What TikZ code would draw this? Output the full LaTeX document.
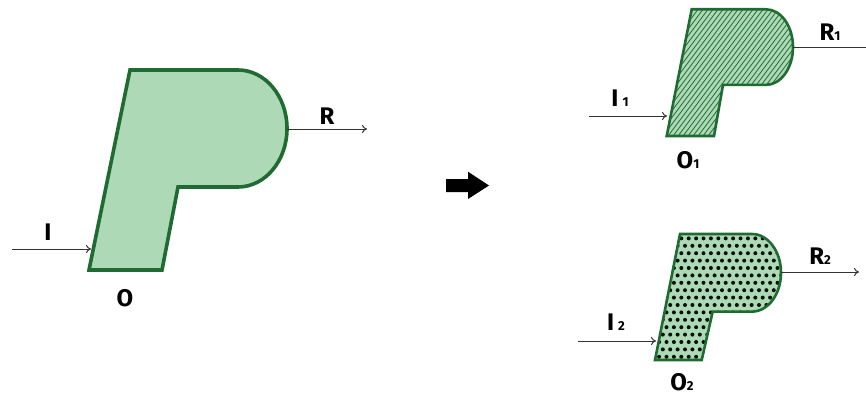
\documentclass[tikz,border=0pt]{standalone}
\usepackage{fontspec}
\setmainfont{Fira Sans}
\usetikzlibrary{arrows.meta}
\definecolor{pfill}{HTML}{AED9B6}
\definecolor{pline}{HTML}{1F6B32}
\definecolor{aline}{HTML}{333333}
\newcommand{\sbs}[1]{{\fontsize{13}{13}\selectfont #1}}
\begin{document}
\begin{tikzpicture}[x=1pt,y=-1pt,
  conn/.style={draw=aline, line width=1pt, -{To[length=5pt,width=8pt]}},
  plain/.style={draw=aline, line width=1pt},
  lbl/.style={font=\fontsize{24}{24}\selectfont\bfseries, text=black, inner sep=0pt},
  bigshape/.style={insert path={(130,70) -- (238,70) arc[start angle=-90,end angle=90,x radius=49,y radius=58.5] -- (178,187) -- (162,270) -- (89,270) -- cycle}},
  shapeA/.style={insert path={(691.7,9.3) -- (766,9.3) arc[start angle=-90,end angle=90,x radius=27,y radius=37.8] -- (723,84.9) -- (714,136) -- (666.7,136) -- cycle}},
  shapeB/.style={insert path={(680,234) -- (752,234) arc[start angle=-90,end angle=90,x radius=29,y radius=38.8] -- (712.7,311.6) -- (701.7,360) -- (655,360) -- cycle}},
  outline/.style={draw=pline, line join=miter}
]
\useasboundingbox (0,0) rectangle (866,396);

% ---- big shape ----
\path[fill=pfill, outline, line width=3.6pt, bigshape];
\coordinate (Rs) at (287,129);
\coordinate (Re) at (367,129);
\coordinate (Is) at (12,249);
\coordinate (Ie) at (91,249);
\draw[conn] (Rs) -- (Re);
\draw[conn] (Is) -- (Ie);
\node[lbl] (R) at (327,116) {R};
\node[lbl] (I) at (48,232) {I};
\node[lbl] (O) at (125,298) {O};

% ---- black arrow ----
\fill[black] (446,179) -- (468,179) -- (468,171.7) -- (489,185.5) -- (468,199) -- (468,192) -- (446,192) -- cycle;

% ---- hatched shape ----
\path[fill=pfill, shapeA];
\begin{scope}
  \clip[shapeA];
  \foreach \i in {0,...,44} {
    \draw[pline, line width=0.8pt] (560+\i*5,140) -- ++(105,-140);
  }
\end{scope}
\path[outline, line width=2.6pt, shapeA];
\coordinate (R1s) at (793,48);
\coordinate (R1e) at (866,48);
\coordinate (I1s) at (589,116);
\coordinate (I1e) at (667,116);
\draw[plain] (R1s) -- (R1e);
\draw[conn] (I1s) -- (I1e);
\node[lbl] (R1) at (830,32) {R\sbs{1}};
\node[lbl] (I1) at (620,98) {I\,\sbs{1}};
\node[lbl] (O1) at (688,160) {O\sbs{1}};

% ---- dotted shape ----
\path[fill=pfill, shapeB];
\begin{scope}
  \clip[shapeB];
  \foreach \r in {0,...,18} {
    \pgfmathsetmacro{\xoff}{648+mod(\r,2)*3.7}
    \pgfmathsetmacro{\yoff}{231+\r*7.4}
    \foreach \c in {0,...,20} {
      \fill[black!85!pline] (\xoff+\c*7.4, \yoff) circle[radius=2];
    }
  }
\end{scope}
\path[outline, line width=2.6pt, shapeB];
\coordinate (R2s) at (781,272);
\coordinate (R2e) at (859,272);
\coordinate (I2s) at (578,341);
\coordinate (I2e) at (656,341);
\draw[conn] (R2s) -- (R2e);
\draw[conn] (I2s) -- (I2e);
\node[lbl] (R2) at (820,256) {R\sbs{2}};
\node[lbl] (I2) at (616,322) {I\,\sbs{2}};
\node[lbl] (O2) at (682,382) {O\sbs{2}};
\end{tikzpicture}
\end{document}
